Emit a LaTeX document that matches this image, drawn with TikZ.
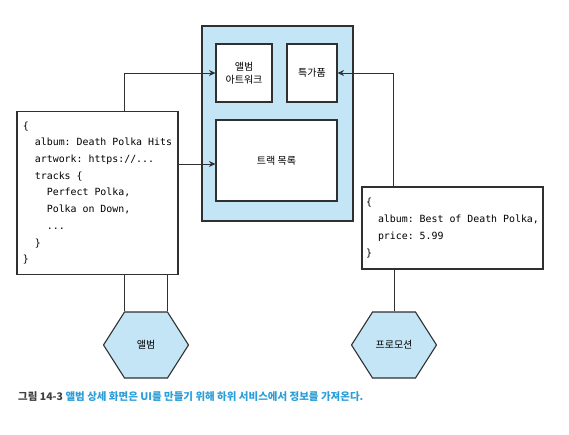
\documentclass[tikz,border=0pt]{standalone}
\usepackage{fontspec}
\setmainfont{Noto Sans CJK KR}
\setmonofont[WordSpace={1,0,0},PunctuationSpace=0]{DejaVu Sans Mono}
\usetikzlibrary{arrows.meta,shapes.symbols,calc}
\definecolor{paleblue}{HTML}{C3E5F6}
\definecolor{capblue}{HTML}{2A9ED8}
\definecolor{edgegray}{HTML}{303030}
\newcommand\ind{\hspace*{1.204em}}

\begin{document}
\begin{tikzpicture}[
  x=1pt, y=-1pt,
  >={Stealth[length=6.5pt,width=6pt]},
  box/.style={rectangle, draw=edgegray, line width=1.1pt, fill=white,
              inner sep=0pt, align=center, font=\fontsize{10}{13}\selectfont},
  codebox/.style={box, align=left, font=\ttfamily\frenchspacing\fontsize{9.9}{16.7}\selectfont},
  hexnode/.style={signal, signal to=west and east, signal pointer angle=115,
                  draw=edgegray, line width=1.1pt, fill=paleblue, inner sep=0pt,
                  minimum width=85pt, minimum height=66pt, font=\fontsize{10}{12}\selectfont},
  link/.style={draw=edgegray, line width=1pt},
]
\useasboundingbox (0,0) rectangle (569,434);

% ===== album page UI =====
\node (page) [box, fill=paleblue, minimum width=151pt, minimum height=195pt] at (277.5,123.5) {};
\node (art) [box, minimum width=56pt, minimum height=58pt] at (244,73) {앨범\\아트워크};
\node (sale) [box, minimum width=50pt, minimum height=58pt] at (312,73) {특가품};
\node (tracks) [box, minimum width=121pt, minimum height=81pt] at (276.5,160.5) {트랙 목록};

% ===== album service response =====
\node (albumjson) [codebox, minimum width=161pt, minimum height=163pt] at (97.5,193) {%
\{\\
\ind album: Death Polka Hits\\
\ind artwork: https://...\\
\ind tracks \{\\
\ind\ind Perfect Polka,\\
\ind\ind Polka on Down,\\
\ind\ind ...\\
\ind \}\\
\}};

% ===== promotion service response =====
\node (promojson) [codebox, minimum width=181pt, minimum height=82pt] at (452.5,228) {%
\{\\
\ind album: Best of Death Polka,\\
\ind price: 5.99\\
\}};

% ===== services =====
\node (albumhex) [hexnode] at (146,345) {앨범};
\node (promohex) [hexnode] at (394,345) {프로모션};

% feeds into the page
\draw[link,->] ($(albumjson.north)+(26.5,0)$) |- (art);
\coordinate (trackin) at ($(tracks.west)+(0,3.5)$);
\draw[link,->] (trackin -| albumjson.east) -- (trackin);
\draw[link,->] ($(promojson.north)+(-59.5,0)$) |- (sale);

% services to their responses
\draw[link] ($(albumhex.north)+(-21.5,0)$) coordinate (hexl) -- (hexl |- albumjson.south);
\draw[link] ($(albumhex.north)+(21.5,0)$) coordinate (hexr) -- (hexr |- albumjson.south);
\draw[link] (promohex.north) -- (promohex.north |- promojson.south);

% ===== caption =====
\node (caption) [anchor=west, font=\fontsize{10.5}{12}\selectfont\bfseries, inner sep=0pt] at (18,397)
  {\textcolor{black!75}{그림 14-3} \textcolor{capblue}{앨범 상세 화면은 UI를 만들기 위해 하위 서비스에서 정보를 가져온다.}};
\end{tikzpicture}
\end{document}
